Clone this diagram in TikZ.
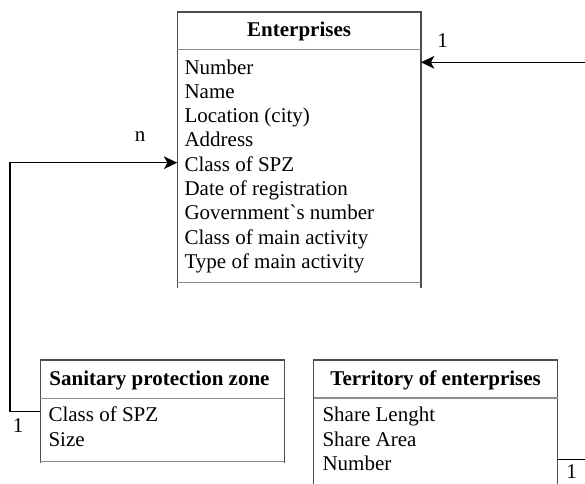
\documentclass[tikz,border=0pt]{standalone}
\usepackage{fontspec}
\setmainfont{Liberation Serif}
\usetikzlibrary{arrows.meta}
\tikzset{
  frame/.style={draw=none, rectangle, inner sep=0pt},
  border/.style={draw=black!70, line width=1.1pt},
  sep/.style={draw=black!45, line width=1pt},
  conn/.style={draw=black, line width=1.1pt},
  arr/.style={conn, -{Stealth[length=10pt, width=9.5pt, inset=2.6pt]}},
  row/.style={anchor=base west, inner sep=0pt, font=\fontsize{15.75}{18}\selectfont},
  ttl/.style={anchor=base, inner sep=0pt, font=\fontsize{15.75}{18}\selectfont\bfseries},
  lbl/.style={inner sep=0pt, font=\fontsize{15.75}{18}\selectfont}
}
\begin{document}
\begin{tikzpicture}[x=0.75pt, y=-0.75pt]
\useasboundingbox (0,0) rectangle (585,483);
\clip (0,0) rectangle (585,483);
% frames
\node[frame, minimum width=182.4pt, minimum height=207pt] (ent) at (299.1,150.2) {};
\node[frame, minimum width=182.5pt, minimum height=77pt] (san) at (162.35,411.65) {};
\node[frame, minimum width=182.5pt, minimum height=97.3pt] (ter) at (435.65,425.15) {};
% Enterprises
\draw[border] (ent.south west) -- (ent.north west) -- (ent.north east) -- (ent.south east);
\draw[sep] (ent.west |- 0,49.3) -- (ent.east |- 0,49.3);
\draw[sep] (ent.west |- 0,282.5) -- (ent.east |- 0,282.5);
\node[ttl] (entt) at (299.1,36.7) {Enterprises};
\node[row] (e1) at (184.3,74.0) {Number};
\node[row] (e2) at (184.3,98.3) {Name};
\node[row] (e3) at (184.3,122.6) {Location (city)};
\node[row] (e4) at (184.3,146.9) {Address};
\node[row] (e5) at (184.3,171.2) {Class of SPZ};
\node[row] (e6) at (184.3,195.5) {Date of registration};
\node[row] (e7) at (184.3,219.8) {Government\textasciigrave s number};
\node[row] (e8) at (184.3,244.1) {Class of main activity};
\node[row] (e9) at (184.3,268.4) {Type of main activity};
% Sanitary protection zone
\draw[border] (san.south west) -- (san.north west) -- (san.north east) -- (san.south east);
\draw[sep] (san.west |- 0,398.3) -- (san.east |- 0,398.3);
\draw[sep] (san.west |- 0,461.5) -- (san.east |- 0,461.5);
\node[ttl] (sant) at (159.5,385.3) {Sanitary protection zone};
\node[row] (s1) at (48.3,421.7) {Class of SPZ};
\node[row] (s2) at (48.3,446.0) {Size};
% Territory of enterprises
\draw[border] (ter.south west) -- (ter.north west) -- (ter.north east) -- (ter.south east);
\draw[sep] (ter.west |- 0,398.0) -- (ter.east |- 0,398.0);
\node[ttl] (tert) at (435.65,385.3) {Territory of enterprises};
\node[row] (t1) at (322.3,421.7) {Share Lenght};
\node[row] (t2) at (322.3,446.0) {Share Area};
\node[row] (t3) at (322.3,470.3) {Number};
% connectors
\coordinate (rin) at (585,62.3);
\coordinate (entin) at (ent.east |- rin);
\draw[arr] (rin) -- (entin);
\coordinate (sanport) at (san.west |- 0,411.7);
\coordinate (entport) at (ent.west |- 0,162.7);
\draw[arr] (sanport) -- ++(-30.4,0) |- (entport);
\coordinate (terport) at (ter.east |- 0,459.3);
\coordinate (rout) at (585,459.3);
\draw[conn] (terport) -- (rout);
% labels
\node[lbl] (l1) at (442.7,40.5) {1};
\node[lbl] (ln) at (140,137) {n};
\node[lbl] (l2) at (18,426) {1};
\node[lbl] (l3) at (571.7,472) {1};
\end{tikzpicture}
\end{document}
